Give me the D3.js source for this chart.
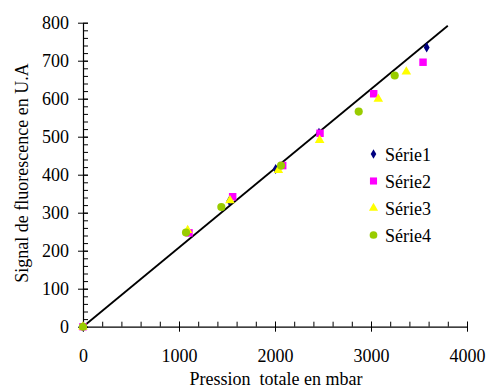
<!DOCTYPE html>
<html><head><meta charset="utf-8">
<script src="https://cdn.jsdelivr.net/npm/d3@7"></script>
<style>body{margin:0;background:#fff}svg{display:block}</style>
</head><body><svg id="c" width="489" height="390"></svg>
<script>
const xTicks = [0, 1000, 2000, 3000, 4000];
const yTicks = [0, 100, 200, 300, 400, 500, 600, 700, 800];
const seriesNames = ["Série1", "Série2", "Série3", "Série4"];
const seriesColors = ["#000080", "#FF00FF", "#FFFF00", "#99CC00"];
const seriesSymbols = ["diamond", "square", "triangle", "circle"];
const serie1 = [[0,0],[1095,250],[1524,331],[2007,415],[2458,510],[3580,735]];
const serie2 = [[0,0],[1104,247],[1559,342],[2080,424],[2469,509],[3028,613],[3542,696]];
const serie3 = [[0,0],[1090,254],[1531,332],[2035,412],[2465,491],[3076,599],[3368,671]];
const serie4 = [[0,0],[1073,248],[1441,315],[2063,424],[2872,566],[3247,661]];
const trendLine = [[0,0],[3800,792]];
const xTitle = "Pression\u00a0 totale en mbar";
const yTitle = "Signal de fluorescence en U.A";

const FONT = "'Liberation Serif', 'Tinos', 'Times New Roman', 'DejaVu Serif', serif";
const allSeries = [serie1, serie2, serie3, serie4];
const svg = d3.select("#c");
const x = d3.scaleLinear().domain([0,4000]).range([83,467]);
const y = d3.scaleLinear().domain([0,800]).range([326.7,22.7]);

// minor ticks
svg.append("g").attr("transform","translate(0,326.7)")
  .call(d3.axisBottom(x).tickValues(d3.range(0,4001,200)).tickSize(-5).tickFormat(""))
  .call(g=>g.select(".domain").remove())
  .selectAll("line").attr("stroke","#000");
svg.append("g").attr("transform","translate(83,0)")
  .call(d3.axisLeft(y).tickValues(d3.range(0,801,20)).tickSize(-5).tickFormat(""))
  .call(g=>g.select(".domain").remove())
  .selectAll("line").attr("stroke","#000");

// major axes
const gx = svg.append("g").attr("transform","translate(0,326.7)")
  .call(d3.axisBottom(x).tickValues(xTicks).tickSize(5).tickSizeOuter(0).tickFormat(d3.format("d")));
gx.attr("font-family", null).attr("font-size", null);
gx.selectAll(".tick line").attr("y1",-5).attr("y2",5).attr("stroke","#000");
gx.select(".domain").attr("stroke","#000").attr("stroke-width",1.2);
gx.selectAll(".tick text").attr("y",35).attr("dy",0)
  .style("font-family",FONT).style("font-size","18px").attr("fill","#000");

const gy = svg.append("g").attr("transform","translate(83,0)")
  .call(d3.axisLeft(y).tickValues(yTicks).tickSize(5).tickSizeOuter(0).tickFormat(d3.format("d")));
gy.attr("font-family", null).attr("font-size", null);
gy.selectAll(".tick line").attr("x1",-5).attr("x2",5).attr("stroke","#000");
gy.select(".domain").attr("stroke","#000").attr("stroke-width",1.2);
gy.selectAll(".tick text").attr("x",-14).attr("dy","0.34em")
  .style("font-family",FONT).style("font-size","18px").attr("fill","#000");

// trend line
svg.append("path").datum(trendLine)
  .attr("d", d3.line().x(d=>x(d[0])).y(d=>y(d[1])))
  .attr("stroke","#000").attr("stroke-width",1.8).attr("fill","none");

const symType = {diamond:d3.symbolDiamond, square:d3.symbolSquare, triangle:d3.symbolTriangle, circle:d3.symbolCircle};
const symSize = {diamond:30, square:56, triangle:40, circle:52};

allSeries.forEach((s,i)=>{
  const sym = d3.symbol().type(symType[seriesSymbols[i]]).size(symSize[seriesSymbols[i]]);
  svg.append("g").selectAll("path").data(s).join("path")
    .attr("transform", d=>`translate(${x(d[0])},${y(d[1])})`)
    .attr("d", sym).attr("fill", seriesColors[i]);
});

// legend
const leg = svg.append("g");
seriesNames.forEach((n,i)=>{
  const yy = 154 + i*27;
  const sym = d3.symbol().type(symType[seriesSymbols[i]]).size(symSize[seriesSymbols[i]]*0.9);
  leg.append("path").attr("transform",`translate(373.5,${yy})`).attr("d",sym).attr("fill",seriesColors[i]);
  leg.append("text").attr("x",385).attr("y",yy+6.5)
    .style("font-family",FONT).style("font-size","18px").attr("fill","#000").text(n);
});

// titles
svg.append("text").attr("x",276).attr("y",385).attr("text-anchor","middle")
  .style("font-family",FONT).style("font-size","18px").attr("fill","#000").text(xTitle);
svg.append("text").attr("transform","translate(28,173) rotate(-90)").attr("text-anchor","middle")
  .style("font-family",FONT).style("font-size","18px").attr("fill","#000").text(yTitle);
</script></body></html>
